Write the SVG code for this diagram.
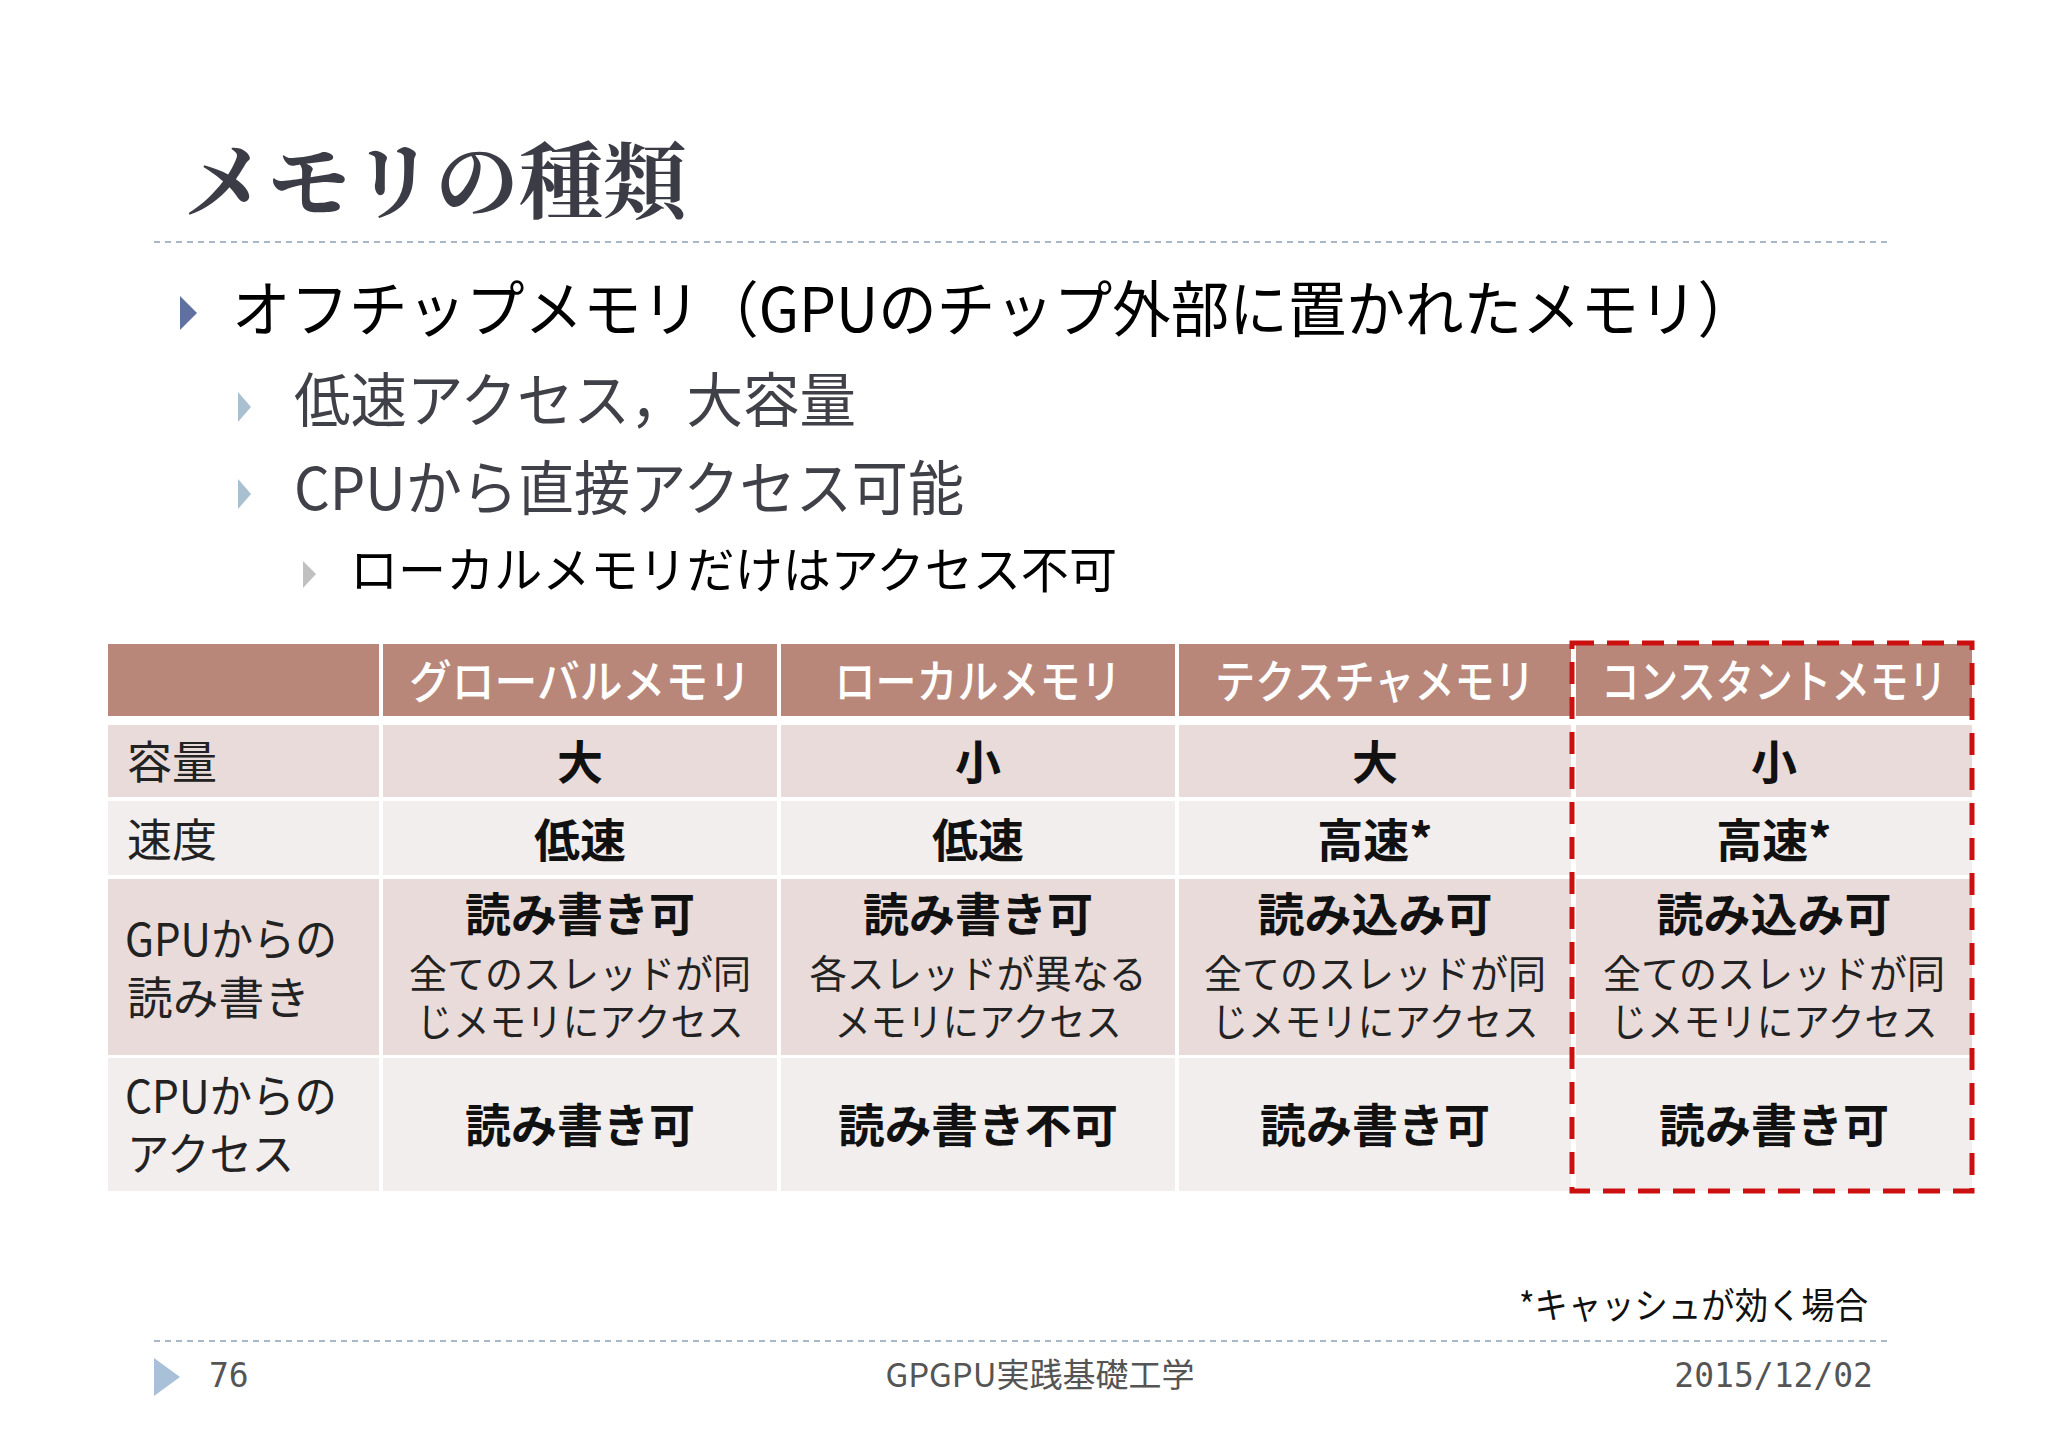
<svg xmlns="http://www.w3.org/2000/svg" width="2048" height="1448" viewBox="0 0 2048 1448">
<style>
text{font-family:"Noto Sans CJK JP","Liberation Sans",sans-serif}
.h{fill:#fff;font-size:46px;text-anchor:middle;font-weight:500}
.b{fill:#111;font-size:46px;text-anchor:middle;font-weight:bold}
.s{fill:#222;font-size:39px;text-anchor:middle}
.l{fill:#222;font-size:45px}
.hd{fill:#b8877a}.o{fill:#e8dbd9}.e{fill:#f2eeee}
.f{fill:#555;font-size:33px}
</style>
<rect width="2048" height="1448" fill="#fff"/>
<text x="183" y="212" font-size="84" font-weight="bold" fill="#3c3c46" style="font-family:'Noto Serif CJK JP','Noto Sans CJK JP',serif">メモリの種類</text>
<line x1="154" y1="242" x2="1891" y2="242" stroke="#a8b8c8" stroke-width="2" stroke-dasharray="6 5"/>
<polygon points="180,296 197,313 180,330" fill="#6070a0"/>
<text x="232" y="332" font-size="61" fill="#000" textLength="1524" lengthAdjust="spacingAndGlyphs">オフチップメモリ（GPUのチップ外部に置かれたメモリ）</text>
<polygon points="238,392 251,407 238,422" fill="#a8c0d0"/>
<text x="294" y="422" font-size="59" fill="#404048" textLength="562" lengthAdjust="spacingAndGlyphs">低速アクセス，大容量</text>
<polygon points="238,479 251,494 238,509" fill="#a8c0d0"/>
<text x="294" y="510" font-size="59" fill="#404048" textLength="670" lengthAdjust="spacingAndGlyphs">CPUから直接アクセス可能</text>
<polygon points="303,561 316,574 303,588" fill="#c0c0c0"/>
<text x="350" y="588" font-size="49" fill="#000" textLength="767" lengthAdjust="spacingAndGlyphs">ローカルメモリだけはアクセス不可</text>
<g id="table">
<rect class="hd" x="108" y="644" width="271" height="72"/>
<rect class="hd" x="383" y="644" width="394" height="72"/>
<rect class="hd" x="781" y="644" width="394" height="72"/>
<rect class="hd" x="1179" y="644" width="392" height="72"/>
<rect class="hd" x="1576" y="644" width="396" height="72"/>
<g class="o"><rect x="108" y="725" width="271" height="72"/><rect x="383" y="725" width="394" height="72"/><rect x="781" y="725" width="394" height="72"/><rect x="1179" y="725" width="392" height="72"/><rect x="1576" y="725" width="396" height="72"/></g>
<g class="e"><rect x="108" y="801" width="271" height="74"/><rect x="383" y="801" width="394" height="74"/><rect x="781" y="801" width="394" height="74"/><rect x="1179" y="801" width="392" height="74"/><rect x="1576" y="801" width="396" height="74"/></g>
<g class="o"><rect x="108" y="879" width="271" height="176"/><rect x="383" y="879" width="394" height="176"/><rect x="781" y="879" width="394" height="176"/><rect x="1179" y="879" width="392" height="176"/><rect x="1576" y="879" width="396" height="176"/></g>
<g class="e"><rect x="108" y="1058" width="271" height="133"/><rect x="383" y="1058" width="394" height="133"/><rect x="781" y="1058" width="394" height="133"/><rect x="1179" y="1058" width="392" height="133"/><rect x="1576" y="1058" width="396" height="133"/></g>
<text class="h" x="580" y="698" textLength="342" lengthAdjust="spacingAndGlyphs">グローバルメモリ</text>
<text class="h" x="978" y="698" textLength="287" lengthAdjust="spacingAndGlyphs">ローカルメモリ</text>
<text class="h" x="1375" y="698" textLength="320" lengthAdjust="spacingAndGlyphs">テクスチャメモリ</text>
<text class="h" x="1774" y="698" textLength="346" lengthAdjust="spacingAndGlyphs">コンスタントメモリ</text>
<text class="l" x="127" y="779">容量</text>
<text class="l" x="127" y="857">速度</text>
<text class="l" x="125" y="956" textLength="212" lengthAdjust="spacingAndGlyphs">GPUからの</text>
<text class="l" x="127" y="1015" textLength="183" lengthAdjust="spacingAndGlyphs">読み書き</text>
<text class="l" x="125" y="1113" textLength="212" lengthAdjust="spacingAndGlyphs">CPUからの</text>
<text class="l" x="127" y="1171" textLength="167" lengthAdjust="spacingAndGlyphs">アクセス</text>
<text class="b" x="580" y="779">大</text><text class="b" x="978" y="779">小</text><text class="b" x="1375" y="779">大</text><text class="b" x="1774" y="779">小</text>
<text class="b" x="580" y="857">低速</text><text class="b" x="978" y="857">低速</text><text class="b" x="1375" y="857">高速*</text><text class="b" x="1774" y="857">高速*</text>
<text class="b" x="580" y="931" textLength="230" lengthAdjust="spacingAndGlyphs">読み書き可</text><text class="b" x="978" y="931" textLength="230" lengthAdjust="spacingAndGlyphs">読み書き可</text><text class="b" x="1375" y="931" textLength="235" lengthAdjust="spacingAndGlyphs">読み込み可</text><text class="b" x="1774" y="931" textLength="235" lengthAdjust="spacingAndGlyphs">読み込み可</text>
<text class="s" x="580" y="988" textLength="342" lengthAdjust="spacingAndGlyphs">全てのスレッドが同</text><text class="s" x="580" y="1036" textLength="327" lengthAdjust="spacingAndGlyphs">じメモリにアクセス</text>
<text class="s" x="978" y="988" textLength="337" lengthAdjust="spacingAndGlyphs">各スレッドが異なる</text><text class="s" x="978" y="1036" textLength="287" lengthAdjust="spacingAndGlyphs">メモリにアクセス</text>
<text class="s" x="1375" y="988" textLength="342" lengthAdjust="spacingAndGlyphs">全てのスレッドが同</text><text class="s" x="1375" y="1036" textLength="327" lengthAdjust="spacingAndGlyphs">じメモリにアクセス</text>
<text class="s" x="1774" y="988" textLength="342" lengthAdjust="spacingAndGlyphs">全てのスレッドが同</text><text class="s" x="1774" y="1036" textLength="327" lengthAdjust="spacingAndGlyphs">じメモリにアクセス</text>
<text class="b" x="580" y="1142" textLength="230" lengthAdjust="spacingAndGlyphs">読み書き可</text><text class="b" x="978" y="1142" textLength="280" lengthAdjust="spacingAndGlyphs">読み書き不可</text><text class="b" x="1375" y="1142" textLength="230" lengthAdjust="spacingAndGlyphs">読み書き可</text><text class="b" x="1774" y="1142" textLength="230" lengthAdjust="spacingAndGlyphs">読み書き可</text>
</g>
<rect x="1572" y="643" width="400" height="548" fill="none" stroke="#cc1010" stroke-width="5" stroke-dasharray="22 13"/>
<text x="1868" y="1319" font-size="36" fill="#111" text-anchor="end" textLength="349" lengthAdjust="spacingAndGlyphs">*キャッシュが効く場合</text>
<line x1="154" y1="1341" x2="1891" y2="1341" stroke="#a8b8c8" stroke-width="2" stroke-dasharray="6 5"/>
<polygon points="154,1358 180,1377 154,1396" fill="#a8c0d8"/>
<text class="f" x="209" y="1387" style="font-family:'DejaVu Sans Mono',monospace">76</text>
<text class="f" x="1040" y="1387" text-anchor="middle">GPGPU実践基礎工学</text>
<text class="f" x="1873" y="1387" text-anchor="end" style="font-family:'DejaVu Sans Mono',monospace">2015/12/02</text>
</svg>
